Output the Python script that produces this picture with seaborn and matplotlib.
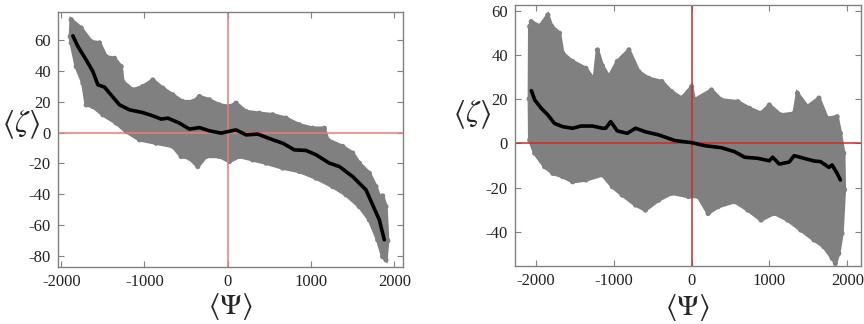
import numpy as np
import pandas as pd
import matplotlib
matplotlib.use("Agg")
import matplotlib.pyplot as plt
import seaborn as sns

# ---------------- data ----------------
# Left panel: mean curve
L_mean_x = [-1860, -1800, -1700, -1620, -1560, -1480, -1420, -1300, -1180, -1020, -900, -800, -720,
            -580, -460, -340, -220, -80, 0, 100, 220, 360, 540, 660, 800, 940, 1060, 1220, 1340,
            1500, 1660, 1820, 1880]
L_mean_y = [62.6, 55.7, 47, 39.5, 30.9, 29.4, 25.5, 17.9, 14.7, 12.9, 10.8, 8.7, 9.3,
            6.1, 2.2, 3.2, 1.1, -0.4, 0.6, 1.7, -1.5, -1.0, -4.7, -6.9, -11.2, -11.6, -14.4, -19.8, -22,
            -28.5, -37.1, -56.5, -69.4]
# Left panel: cloud envelope
L_up_x = [-1890, -1880, -1760, -1640, -1540, -1460, -1360, -1280, -1260, -1140, -1020, -900, -780,
          -660, -540, -420, -340, -220, -100, 20, 100, 220, 380, 540, 700, 860, 1020, 1160, 1200,
          1380, 1500, 1580, 1700, 1780, 1820, 1860, 1900, 1920]
L_up_y = [62, 73, 67.6, 58.9, 58, 49, 48, 42.7, 33, 27.6, 29.8, 34, 28.7,
          24.4, 20, 20, 23.3, 21.2, 17.9, 16.8, 19, 13.6, 12.5, 11.5, 9.3, 5, 2.8, 2.8, -4.7,
          -9, -13.3, -19.8, -26.3, -35, -41.4, -41, -47.9, -70]
L_lo_x = [-1890, -1880, -1820, -1740, -1700, -1620, -1500, -1340, -1220, -1060, -860, -660, -560,
          -460, -360, -260, -100, 20, 140, 300, 460, 660, 860, 1060, 1260, 1420, 1580, 1700,
          1800, 1860, 1900, 1920]
L_lo_y = [62, 57.9, 42.7, 32, 17.9, 16.8, 11.5, 6.1, 0.6, -4.7, -6.9, -9, -15.5,
          -16.6, -22, -15.5, -15.5, -18.8, -15.5, -17.7, -19.8, -23, -25.2, -29.5, -35, -40.3, -47.9, -56.5,
          -69.4, -80.3, -82.4, -70]

# Right panel: mean curve
R_mean_x = [-2059, -2016, -1931, -1847, -1762, -1656, -1529, -1422, -1274, -1146, -1104, -1040, -955,
            -828, -721, -594, -424, -212, 0, 171, 382, 552, 680, 850, 998, 1041, 1126, 1253, 1317,
            1444, 1572, 1656, 1763, 1805, 1869, 1911]
R_mean_y = [23.8, 19.6, 15.8, 12.8, 9, 7.5, 6.8, 7.8, 7.8, 6.8, 6.8, 9.8, 5.6,
            4.5, 6.8, 5.2, 3.8, 1.2, 0.3, -1.1, -2, -3.8, -6.3, -6.8, -7.9, -6.3, -9.4, -8.5, -5.6,
            -6.8, -8, -8.3, -10.9, -9.8, -13.6, -16.6]
# Right panel: cloud envelope
R_up_x = [-2085, -2080, -2060, -1950, -1847, -1800, -1698, -1656, -1529, -1358, -1252, -1210, -1146,
          -1061, -955, -806, -679, -552, -382, -255, -127, 0, 34, 255, 382, 595, 744, 892, 999,
          1146, 1317, 1359, 1487, 1635, 1741, 1869, 1911, 1954, 1962]
R_up_y = [20, 52.8, 55, 53, 58, 53, 49.8, 40.7, 37, 33.9, 28.6, 42.2, 35,
          30.1, 37, 42.2, 32.4, 29.4, 27.9, 23.3, 20.4, 25.6, 19.6, 24.1, 19.6, 18.8, 15.8, 13.6, 17.3,
          12.8, 13.6, 22.6, 16.6, 20.4, 11.3, 12, 4.5, -4.5, -21]
R_lo_x = [-2085, -2080, -2016, -1889, -1783, -1656, -1529, -1358, -1146, -1019, -892, -721, -594,
          -424, -255, -42, 85, 212, 340, 552, 722, 892, 1062, 1232, 1401, 1572, 1699, 1805,
          1847, 1890, 1932, 1962]
R_lo_y = [20, 1.5, -4.5, -10.6, -13.6, -15.1, -17.4, -16.6, -14.3, -19.6, -23.4, -27.9, -30.2,
          -25.7, -22.6, -24.1, -24.1, -31.7, -28.7, -26.4, -30.2, -34.7, -31.7, -34.7, -39.2, -43.7, -46.8, -52,
          -54.3, -49.8, -40.7, -21]

x_ticks = [-2000, -1000, 0, 1000, 2000]
L_yticks = [-80, -60, -40, -20, 0, 20, 40, 60]
R_yticks = [-40, -20, 0, 20, 40, 60]

# ---------------- style ----------------
sns.set_style("ticks")
plt.rcParams["font.family"] = ["Liberation Serif", "DejaVu Serif"]
plt.rcParams["mathtext.fontset"] = "stix"

fig = plt.figure(figsize=(8.64, 3.24), dpi=100)
axL = fig.add_axes([0.067, 0.176, 0.399, 0.787])
axR = fig.add_axes([0.596, 0.179, 0.400, 0.806])

GRAY = "#808080"


def draw(ax, ux, uy, lx, ly, mx, my, xlim, ylim, yticks, redc, ylab_pos, xlab_y):
    px = list(ux) + list(lx[::-1])
    py = list(uy) + list(ly[::-1])
    ax.fill(px, py, color=GRAY, edgecolor=GRAY, linewidth=2.5, zorder=1)
    sns.scatterplot(x=ux, y=uy, ax=ax, color=GRAY, s=14, edgecolor="none", zorder=1)
    sns.scatterplot(x=lx, y=ly, ax=ax, color=GRAY, s=14, edgecolor="none", zorder=1)
    ax.axhline(0, color=redc, lw=1.1, zorder=2)
    ax.axvline(0, color=redc, lw=1.1, zorder=2)
    sns.lineplot(x=mx, y=my, ax=ax, color="black", lw=2.6, sort=False, zorder=3)
    ax.set_xlim(*xlim)
    ax.set_ylim(*ylim)
    ax.set_xticks(x_ticks)
    ax.set_xticklabels([str(t) for t in x_ticks])
    ax.set_yticks(yticks)
    ax.set_yticklabels([str(t) for t in yticks])
    ax.tick_params(direction="in", length=4, width=0.8, color=GRAY,
                   top=True, right=True, labelsize=12, labelcolor="#222222", pad=5)
    for s in ax.spines.values():
        s.set_color(GRAY)
        s.set_linewidth(1.0)
    ax.set_xlabel(r"$\langle\Psi\rangle$", fontsize=21)
    ax.set_ylabel(r"$\langle\zeta\rangle$", fontsize=22, rotation=0, va="center", ha="center")
    ax.yaxis.set_label_coords(*ylab_pos)
    ax.xaxis.set_label_coords(0.5, xlab_y)


draw(axL, L_up_x, L_up_y, L_lo_x, L_lo_y, L_mean_x, L_mean_y,
     (-2040, 2100), (-87, 78), L_yticks, "#f07878", (-0.107, 0.557), -0.095)
draw(axR, R_up_x, R_up_y, R_lo_x, R_lo_y, R_mean_x, R_mean_y,
     (-2270, 2170), (-55.5, 62.6), R_yticks, "#cc2a2a", (-0.125, 0.578), -0.10)

fig.savefig("out.png", dpi=100)
